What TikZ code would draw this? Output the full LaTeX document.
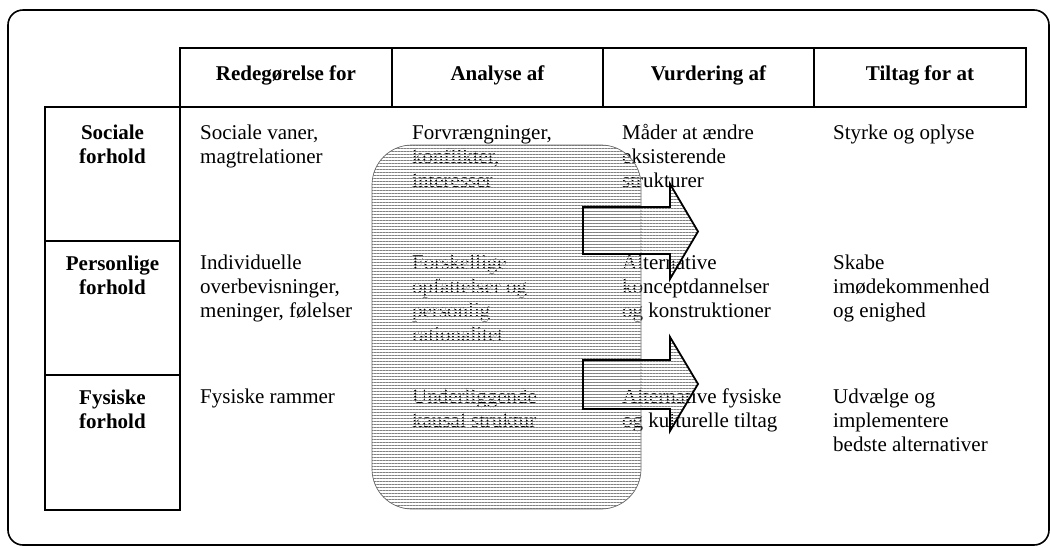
\documentclass[tikz,border=0pt]{standalone}
\usepackage{fontspec}
\setmainfont{Liberation Serif}
\usetikzlibrary{patterns.meta}

% left-aligned multi-line cell text, baseline at the first line
\newcommand{\celltext}[1]{\begin{tabular}[t]{@{}l@{}}#1\end{tabular}}
\newcommand{\rowtext}[1]{\begin{tabular}[t]{@{}c@{}}#1\end{tabular}}

\begin{document}
\begin{tikzpicture}[x=1pt,y=-1pt,
  frame/.style={line width=1.6pt, rounded corners=15pt},
  grid/.style={line width=1.6pt},
  txt/.style={inner sep=0pt, anchor=base west, font=\fontsize{21}{24}\selectfont},
  hdr/.style={inner sep=0pt, anchor=base, font=\fontsize{21}{24}\selectfont\bfseries},
  stripes/.style={
    preaction={pattern={Lines[angle=0,distance=3pt,yshift=1.5pt,line width=0.5pt]}, pattern color=white},
    pattern={Lines[angle=0,distance=3pt,line width=0.6pt]}, pattern color=black!50},
  panel/.style={stripes, draw=black!60, line width=0.7pt, rounded corners=40pt},
  blockarrow/.style={stripes, draw=black, line width=1.8pt, line join=miter}
]
\useasboundingbox (0,0) rectangle (1050,547);

% outer frame
\draw[frame] (8,10) rectangle (1049,545);

% column headings
\draw[grid] (180,48) rectangle (1026,107);
\foreach \x in {392,603,814} \draw[grid] (\x,48) -- (\x,107);
\node[hdr] (c1) at (286,80) {Redegørelse for};
\node[hdr] (c2) at (497.5,80) {Analyse af};
\node[hdr] (c3) at (708.5,80) {Vurdering af};
\node[hdr] (c4) at (920,80) {Tiltag for at};

% row headings
\draw[grid] (45,107) rectangle (180,510);
\draw[grid] (45,241) -- (180,241) (45,375) -- (180,375);
\node[hdr] (r1) at (112.5,139) {\rowtext{Sociale\\forhold}};
\node[hdr] (r2) at (112.5,270) {\rowtext{Personlige\\forhold}};
\node[hdr] (r3) at (112.5,404) {\rowtext{Fysiske\\forhold}};

% row 1
\node[txt] (a1) at (200,139) {\celltext{Sociale vaner,\\magtrelationer}};
\node[txt] (a2) at (412,139) {\celltext{Forvrængninger,\\konflikter,\\interesser}};
\node[txt] (a3) at (622,139) {\celltext{Måder at ændre\\eksisterende\\strukturer}};
\node[txt] (a4) at (833,139) {\celltext{Styrke og oplyse}};

% row 2
\node[txt] (b1) at (200,269) {\celltext{Individuelle\\overbevisninger,\\meninger, følelser}};
\node[txt] (b2) at (412,269) {\celltext{Forskellige\\opfattelser og\\personlig\\rationalitet}};
\node[txt] (b3) at (622,269) {\celltext{Alternative\\konceptdannelser\\og konstruktioner}};
\node[txt] (b4) at (833,269) {\celltext{Skabe\\imødekommenhed\\og enighed}};

% row 3
\node[txt] (d1) at (200,403) {\celltext{Fysiske rammer}};
\node[txt] (d2) at (412,403) {\celltext{Underliggende\\kausal struktur}};
\node[txt] (d3) at (622,403) {\celltext{Alternative fysiske\\og kulturelle tiltag}};
\node[txt] (d4) at (833,403) {\celltext{Udvælge og\\implementere\\bedste alternativer}};

% hatched analysis panel
\path[panel] (372,145) rectangle (641,509);

% block arrows out of the panel
\path[blockarrow] (583,207) -- (670,207) -- (670,184) -- (698,231.5)
  -- (670,279) -- (670,254) -- (583,254) -- cycle;
\path[blockarrow] (583,360) -- (670,360) -- (670,337) -- (698,384)
  -- (670,431) -- (670,409) -- (583,409) -- cycle;
\end{tikzpicture}
\end{document}
